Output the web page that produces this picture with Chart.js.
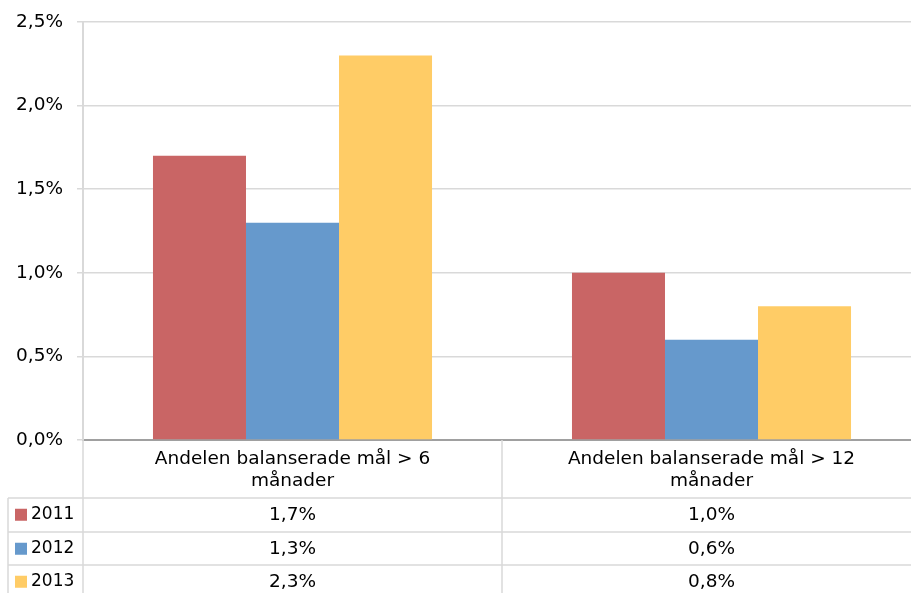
<!DOCTYPE html>
<html>
<head>
<meta charset="utf-8">
<script src="https://cdn.jsdelivr.net/npm/chart.js@4"></script>
<style>
  html, body { margin: 0; padding: 0; background: #fff; overflow: hidden; }
  #wrap { width: 911px; height: 593px; overflow: hidden; }
</style>
</head>
<body>
<div id="wrap"><canvas id="chart" width="921" height="593"></canvas></div>
<script>
// ----------------- DATA -----------------
const categories = [
  ['Andelen balanserade mål > 6', 'månader'],
  ['Andelen balanserade mål > 12', 'månader']
];
const seriesNames = ['2011', '2012', '2013'];
const seriesColors = ['#C96565', '#6699CC', '#FFCC66'];
const values2011 = [1.7, 1.0];
const values2012 = [1.3, 0.6];
const values2013 = [2.3, 0.8];
const yTicks = [0, 0.5, 1.0, 1.5, 2.0, 2.5];

const FONT = 'DejaVu Sans';
const FONT_SIZE = 18.5;
const TABLE_H = 153;

function pct(v) {
  return v.toFixed(1).replace('.', ',') + '%';
}

const allValues = [values2011, values2012, values2013];

// draws the data table under the plot
const tablePlugin = {
  id: 'dataTable',
  afterDraw(chart) {
    const ctx = chart.ctx;
    const x = chart.scales.x;
    const area = chart.chartArea;
    const bottom = chart.height;
    const catW = x.getPixelForValue(1) - x.getPixelForValue(0);
    const top = area.bottom;
    const rowTops = [top + 58, top + 92, top + 125];
    const rowH = 33.5;

    ctx.save();
    ctx.strokeStyle = '#D9D9D9';
    ctx.lineWidth = 1.5;

    // horizontal row lines
    rowTops.forEach(y => {
      ctx.beginPath();
      ctx.moveTo(8, y);
      ctx.lineTo(area.right, y);
      ctx.stroke();
    });
    // vertical lines
    const vlines = [[area.left, top], [8, rowTops[0]]];
    for (let i = 0; i < categories.length - 1; i++) {
      vlines.push([x.getPixelForValue(i) + catW / 2, top]);
    }
    vlines.forEach(([vx, vy]) => {
      ctx.beginPath();
      ctx.moveTo(vx, vy);
      ctx.lineTo(vx, bottom);
      ctx.stroke();
    });

    ctx.fillStyle = '#000';
    ctx.font = FONT_SIZE + 'px "' + FONT + '"';
    ctx.textBaseline = 'middle';

    // category headers
    ctx.textAlign = 'center';
    categories.forEach((lines, i) => {
      const cx = x.getPixelForValue(i);
      lines.forEach((ln, j) => ctx.fillText(ln, cx, top + 19 + j * 22));
    });

    // series rows
    seriesNames.forEach((name, s) => {
      const cy = rowTops[s] + rowH / 2;
      ctx.fillStyle = seriesColors[s];
      ctx.fillRect(15, cy - 6, 12, 12);
      ctx.fillStyle = '#000';
      ctx.textAlign = 'left';
      ctx.font = '17px "' + FONT + '"';
      ctx.fillText(name, 31, cy);
      ctx.font = FONT_SIZE + 'px "' + FONT + '"';
      ctx.textAlign = 'center';
      allValues[s].forEach((v, i) => {
        ctx.fillText(pct(v), x.getPixelForValue(i), cy);
      });
    });
    ctx.restore();
  }
};

const ctx = document.getElementById('chart').getContext('2d');
new Chart(ctx, {
  type: 'bar',
  data: {
    labels: categories,
    datasets: seriesNames.map((name, s) => ({
      label: name,
      data: allValues[s],
      backgroundColor: seriesColors[s],
      borderWidth: 0,
      categoryPercentage: 0.666,
      barPercentage: 1.0
    }))
  },
  options: {
    responsive: false,
    animation: false,
    layout: { padding: { top: 22, left: 0, right: 0, bottom: 0 } },
    plugins: {
      legend: { display: false },
      tooltip: { enabled: false }
    },
    scales: {
      x: {
        grid: { display: false },
        border: { color: '#A0A0A0', width: 2 },
        ticks: { display: false },
        afterFit(scale) { scale.height = TABLE_H; }
      },
      y: {
        min: 0,
        max: 2.5,
        afterBuildTicks(scale) {
          scale.ticks = yTicks.map(v => ({ value: v }));
        },
        afterFit(scale) {
          scale.width = 83;
          scale.paddingTop = 0;
          scale.paddingBottom = 0;
        },
        grid: { color: '#D9D9D9', lineWidth: 1.5, tickLength: 6 },
        border: { color: '#D9D9D9', width: 2 },
        ticks: {
          padding: 14,
          color: '#000',
          font: { family: FONT, size: FONT_SIZE },
          callback: v => pct(v)
        }
      }
    }
  },
  plugins: [tablePlugin]
});
</script>
</body>
</html>
